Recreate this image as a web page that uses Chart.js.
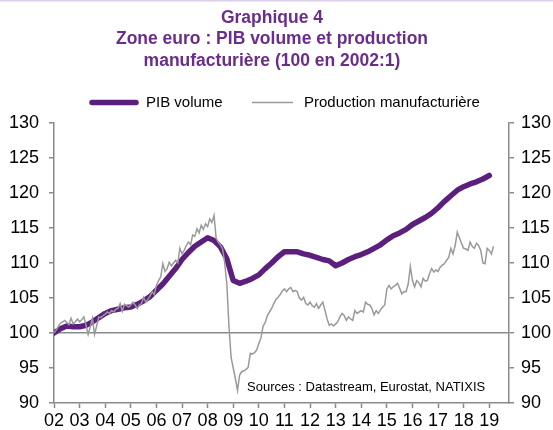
<!DOCTYPE html>
<html>
<head>
<meta charset="utf-8">
<script src="https://cdn.jsdelivr.net/npm/chart.js@4.4.1/dist/chart.umd.min.js"></script>
<style>
  html, body { margin: 0; padding: 0; background: #fff; }
  #wrap { width: 553px; height: 430px; }
</style>
</head>
<body>
<div id="wrap"><canvas id="chart" width="553" height="430"></canvas></div>
<script>
// Axis labels (2 digits for the years 2002..2019)
const yearLabels = ['02','03','04','05','06','07','08','09','10','11','12','13','14','15','16','17','18','19'];
const firstYear = 2002;

// PIB volume, quarterly, 2002:1 .. 2019:1 (100 en 2002:1)
const pibValues = [
  100.0, 100.6, 101.0, 100.9,
  100.9, 101.1, 101.6, 102.2,
  102.8, 103.2, 103.4, 103.6,
  103.7, 104.1, 104.6, 105.2,
  106.1, 107.0, 108.1, 109.2,
  110.5, 111.5, 112.4, 113.0,
  113.6, 113.2, 112.3, 110.6,
  107.5, 107.1, 107.4, 107.8,
  108.3, 109.2, 110.0, 110.9,
  111.6, 111.6, 111.6, 111.3,
  111.1, 110.8, 110.5, 110.3,
  109.6, 110.0, 110.5, 110.9,
  111.2, 111.6, 112.1, 112.6,
  113.3, 113.9, 114.3, 114.8,
  115.5, 116.0, 116.5, 117.1,
  117.9, 118.8, 119.6, 120.4,
  120.9, 121.3, 121.6, 122.0,
  122.5
];

// Production manufacturière, monthly, 2002:01 .. 2019:03
const prodValues = [
  100.0, 100.4, 100.9, 101.4, 101.6, 101.8, 101.5, 101.2, 102.1, 101.3, 101.6, 102.0,
  101.6, 101.9, 102.3, 101.1, 99.8, 100.9, 102.1, 99.8, 101.0, 102.3, 102.2, 102.5,
  102.7, 103.0, 102.8, 103.2, 103.0, 103.4, 103.5, 104.2, 103.1, 104.1, 103.9, 103.7,
  104.0, 104.4, 104.0, 103.5, 104.0, 104.2, 105.1, 104.4, 104.8, 105.3, 105.9, 105.5,
  106.8, 107.5, 108.0, 109.9, 108.8, 109.2, 110.1, 109.6, 110.0, 110.4, 110.0, 112.1,
  111.3, 111.8, 112.5, 113.0, 112.6, 114.0, 113.8, 114.9, 114.3, 115.4, 114.8, 115.6,
  115.2, 116.3, 115.8, 116.8, 113.5, 113.0, 112.6, 112.0, 110.0, 107.0, 101.0, 96.5,
  95.0, 93.5, 91.8, 94.0, 94.5, 94.6, 94.8, 95.1, 97.1, 97.0, 97.2, 97.6,
  98.5, 99.3, 101.0, 101.5, 102.5, 103.0, 103.5, 104.2, 104.8, 105.1, 105.5, 106.0,
  106.3, 105.9, 106.3, 106.5, 105.9, 106.1, 105.9, 105.0, 104.7, 105.1, 104.2, 104.0,
  104.4, 103.9, 103.7, 104.2, 103.5, 104.0, 104.4, 103.2, 102.0, 101.1, 101.3, 101.0,
  101.3, 101.6, 102.3, 102.8, 102.5, 101.8, 102.3, 102.0, 101.8, 103.2, 102.8, 103.0,
  103.2, 103.0, 104.4, 104.1, 104.0, 103.5, 102.6, 103.2, 102.8, 103.3, 103.7, 104.0,
  106.3, 106.8, 106.3, 106.6, 106.8, 107.1, 106.4, 105.6, 105.9, 105.9, 107.0, 109.5,
  107.5, 106.6, 107.5, 107.2, 106.6, 107.8, 107.4, 107.5, 108.5, 109.2, 108.7, 109.0,
  108.8, 109.4, 109.7, 109.9, 110.4, 110.8, 112.1, 111.3, 112.5, 114.4, 113.6, 112.8,
  112.1, 112.0, 111.8, 113.0, 112.4, 112.1, 112.8, 112.5, 111.8, 110.0, 109.9, 112.1,
  111.8, 111.3, 112.4
];

const titleLines = ['Graphique 4', 'Zone euro : PIB volume et production', 'manufacturière (100 en 2002:1)'];
const sourceText = 'Sources : Datastream, Eurostat, NATIXIS';

const purple = '#5c1f7d';
const grey = '#9a9a9a';
const axisGrey = '#8a8a8a';
const labelFont = { family: '"Liberation Sans", Arial, sans-serif', size: 18 };

// titre, légende et source dessinés à la main
const decorPlugin = {
  id: 'decor',
  afterDraw(chart) {
    const ctx = chart.ctx;
    ctx.save();
    ctx.fillStyle = '#dcd0e8';
    ctx.fillRect(0, 0, 553, 1.5);

    ctx.fillStyle = '#6b2d8c';
    ctx.font = 'bold 17.5px "Liberation Sans", Arial, sans-serif';
    ctx.textAlign = 'center';
    ctx.textBaseline = 'middle';
    titleLines.forEach((t, i) => ctx.fillText(t, 272, 18 + i * 21.5));

    // légende
    const items = [
      { ds: chart.data.datasets[0], x0: 92, x1: 136, tx: 146 },
      { ds: chart.data.datasets[1], x0: 252, x1: 293, tx: 304 }
    ];
    ctx.font = '15px "Liberation Sans", Arial, sans-serif';
    ctx.textAlign = 'left';
    items.forEach(it => {
      ctx.beginPath();
      ctx.strokeStyle = it.ds.borderColor;
      ctx.lineWidth = it.ds.borderWidth;
      ctx.lineCap = it.ds.borderCapStyle || 'butt';
      ctx.moveTo(it.x0, 102.5);
      ctx.lineTo(it.x1, 102.5);
      ctx.stroke();
      ctx.fillStyle = '#000';
      ctx.fillText(it.ds.label, it.tx, 103);
    });

    ctx.font = '13px "Liberation Sans", Arial, sans-serif';
    ctx.fillStyle = '#000';
    ctx.fillText(sourceText, 247, 387);
    ctx.restore();
  }
};

const yAxis = (position, width, pad) => ({
  type: 'linear',
  position: position,
  min: 90,
  max: 130,
  ticks: { stepSize: 5, color: '#000', font: labelFont, padding: pad },
  grid: {
    drawOnChartArea: position === 'left',
    color: (c) => (c.tick && c.tick.value === 100 ? axisGrey : 'rgba(0,0,0,0)'),
    lineWidth: 1.5,
    tickColor: axisGrey,
    tickLength: 5,
    tickWidth: 1.5
  },
  border: { display: true, color: axisGrey, width: 1.5 },
  afterFit: (s) => { s.width = width; }
});

new Chart(document.getElementById('chart'), {
  type: 'line',
  data: {
    datasets: [
      {
        label: 'PIB volume',
        data: pibValues.map((v, i) => ({ x: firstYear + i / 4, y: v })),
        borderColor: purple,
        borderWidth: 5.5,
        borderCapStyle: 'round',
        borderJoinStyle: 'round',
        pointRadius: 0,
        tension: 0,
        order: 1,
        yAxisID: 'y'
      },
      {
        label: 'Production manufacturière',
        data: prodValues.map((v, i) => ({ x: firstYear + i / 12, y: v })),
        borderColor: grey,
        borderWidth: 1.5,
        pointRadius: 0,
        tension: 0,
        order: 0,
        yAxisID: 'y'
      }
    ]
  },
  options: {
    responsive: false,
    animation: false,
    devicePixelRatio: 1,
    layout: { padding: { top: 123, left: 0, right: 0, bottom: 0 } },
    plugins: {
      legend: { display: false },
      title: { display: false },
      tooltip: { enabled: false }
    },
    scales: {
      x: {
        type: 'linear',
        min: firstYear,
        max: firstYear + 17.77,
        ticks: {
          stepSize: 1,
          includeBounds: false,
          autoSkip: false,
          maxRotation: 0,
          color: '#000',
          font: labelFont,
          padding: 2,
          callback: (v) => (Number.isInteger(v) ? yearLabels[v - firstYear] : '')
        },
        grid: {
          drawOnChartArea: false,
          tickColor: axisGrey,
          tickLength: 5,
          tickWidth: 1.5
        },
        border: { display: true, color: axisGrey, width: 1.5 },
        afterFit: (s) => { s.height = 27; }
      },
      y: yAxis('left', 54, 10),
      y2: yAxis('right', 44, 7)
    }
  },
  plugins: [decorPlugin]
});
</script>
</body>
</html>
